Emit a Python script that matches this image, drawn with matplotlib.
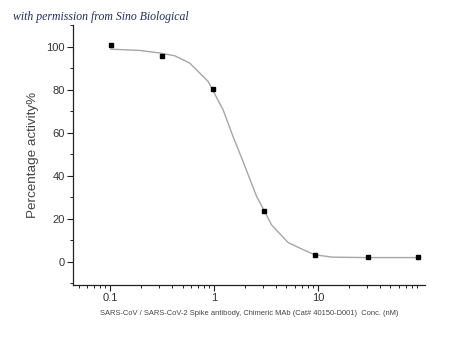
import matplotlib
matplotlib.use("Agg")
import matplotlib.pyplot as plt
from matplotlib.ticker import LogLocator, MultipleLocator, FixedFormatter, FixedLocator

# measured points
conc = [0.1016, 0.314, 0.978, 3.07, 9.5, 30.4, 92.8]
activity = [100.6, 95.5, 80.3, 23.7, 3.1, 2.3, 2.3]

# fitted curve
curve_x = [0.102, 0.194, 0.303, 0.422, 0.587, 0.881, 1.228, 1.53, 1.91,
           2.58, 3.09, 3.59, 5.18, 6.71, 9.35, 13.9, 29.4, 92.0]
curve_y = [98.9, 98.3, 97.1, 95.8, 92.4, 83.9, 70.7, 58.3, 46.7,
           30.4, 23.4, 17.2, 9.0, 6.4, 3.3, 2.2, 2.0, 2.0]

plt.rcParams['font.family'] = ['Liberation Sans', 'DejaVu Sans']

fig = plt.figure(figsize=(4.5, 3.5), dpi=100)
ax = fig.add_axes([0.162, 0.186, 0.782, 0.743])

ax.plot(curve_x, curve_y, color="#a6a6a6", lw=1.0, zorder=2)
ax.plot(conc, activity, "s", color="black", ms=3.2, zorder=3)

ax.set_xscale("log")
ax.set_xlim(0.0441, 107)
ax.set_ylim(-10.7, 110.2)

ax.xaxis.set_major_locator(FixedLocator([0.1, 1, 10]))
ax.xaxis.set_major_formatter(FixedFormatter(["0.1", "1", "10"]))
ax.xaxis.set_minor_locator(LogLocator(base=10, subs=range(2, 10)))
ax.yaxis.set_major_locator(MultipleLocator(20))
ax.yaxis.set_minor_locator(MultipleLocator(10))
ax.set_yticks([0, 20, 40, 60, 80, 100])

for s in ["top", "right"]:
    ax.spines[s].set_visible(False)
for s in ["left", "bottom"]:
    ax.spines[s].set_color("#222222")
    ax.spines[s].set_linewidth(0.9)

ax.tick_params(which="major", length=4, width=0.8, color="#222222",
               labelsize=8, labelcolor="#333333", pad=2)
ax.tick_params(which="minor", length=2.5, width=0.7, color="#222222")

ax.set_ylabel("Percentage activity%", fontsize=9.7, color="#444444", labelpad=5)
ax.set_xlabel("SARS-CoV / SARS-CoV-2 Spike antibody, Chimeric MAb (Cat# 40150-D001)  Conc. (nM)",
              fontsize=5.4, color="#444444", labelpad=5)

fig.text(0.028, 0.952, "with permission from Sino Biological", fontsize=8.5,
         style="italic", family="Liberation Serif", color="#1f2d5c", va="center")

fig.savefig("out.png", dpi=100)
